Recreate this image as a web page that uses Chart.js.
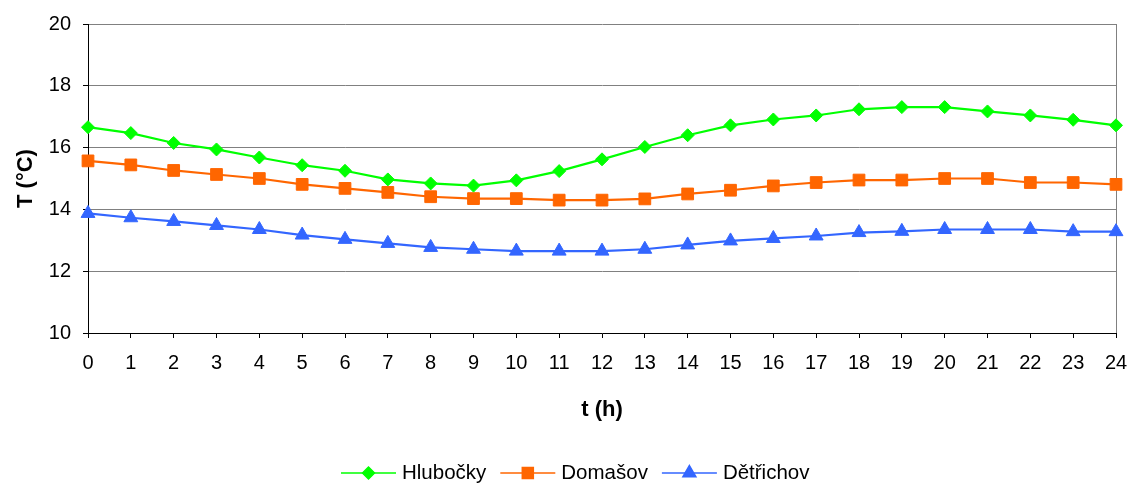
<!DOCTYPE html>
<html>
<head>
<meta charset="utf-8">
<script src="https://cdn.jsdelivr.net/npm/chart.js@4.4.1/dist/chart.umd.min.js"></script>
<style>
html,body{margin:0;padding:0;background:#fff;}
#wrap{width:1130px;height:484px;position:relative;}
</style>
</head>
<body>
<div id="wrap"><canvas id="c"></canvas></div>
<script>
const hours = ['0','1','2','3','4','5','6','7','8','9','10','11','12','13','14','15','16','17','18','19','20','21','22','23','24'];
const hlubocky = [16.66,16.47,16.15,15.94,15.68,15.43,15.25,14.97,14.84,14.77,14.94,15.24,15.62,16.02,16.40,16.72,16.91,17.04,17.24,17.31,17.31,17.17,17.04,16.90,16.72];
const domasov = [15.57,15.44,15.26,15.13,15.00,14.81,14.68,14.55,14.41,14.35,14.35,14.30,14.30,14.34,14.50,14.62,14.76,14.87,14.95,14.95,15.00,15.00,14.87,14.87,14.81];
const detrichov = [13.87,13.73,13.61,13.48,13.35,13.17,13.03,12.90,12.77,12.71,12.65,12.65,12.65,12.71,12.85,12.98,13.06,13.14,13.25,13.29,13.35,13.35,13.35,13.28,13.28];
const seriesNames = ['Hlubočky','Domašov','Dětřichov'];
const yTicks = [10,12,14,16,18,20];

const FONT = "'Liberation Sans', Arial, sans-serif";

const legendPlugin = {
  id: 'lineLegend',
  afterDraw(chart) {
    const ctx = chart.ctx;
    const y = 473;
    const lineLen = 55, gapText = 6, gapItem = 14;
    ctx.save();
    ctx.font = '20.5px ' + FONT;
    const items = chart.data.datasets.map(ds => ({ds, w: ctx.measureText(ds.label).width}));
    let x = 341;
    items.forEach(it => {
      const ds = it.ds;
      ctx.strokeStyle = ds.borderColor;
      ctx.lineWidth = 1.5;
      ctx.beginPath();
      ctx.moveTo(x, y);
      ctx.lineTo(x + lineLen, y);
      ctx.stroke();
      ctx.fillStyle = ds.pointBackgroundColor;
      ctx.strokeStyle = ds.pointBorderColor;
      Chart.helpers.drawPoint(ctx, {pointStyle: ds.pointStyle, radius: ds.pointRadius - 0.5, rotation: 0, borderWidth: 1}, x + lineLen / 2, y);
      ctx.fillStyle = '#000';
      ctx.textBaseline = 'middle';
      ctx.textAlign = 'left';
      ctx.fillText(ds.label, x + lineLen + gapText, y);
      x += lineLen + gapText + it.w + gapItem;
    });
    ctx.restore();
  }
};

new Chart(document.getElementById('c'), {
  type: 'line',
  data: {
    labels: hours,
    datasets: [
      {label: seriesNames[0], data: hlubocky, borderColor: '#00FF00', backgroundColor: '#00FF00', pointBackgroundColor: '#00FF00', pointBorderColor: '#00FF00', pointStyle: 'rectRot', pointRadius: 6.5, pointBorderWidth: 1, borderWidth: 2.2, tension: 0},
      {label: seriesNames[1], data: domasov, borderColor: '#FF6600', backgroundColor: '#FF6600', pointBackgroundColor: '#FF6600', pointBorderColor: '#FF6600', pointStyle: 'rect', pointRadius: 8.3, pointBorderWidth: 1, borderWidth: 2.2, tension: 0},
      {label: seriesNames[2], data: detrichov, borderColor: '#3366FF', backgroundColor: '#3366FF', pointBackgroundColor: '#3366FF', pointBorderColor: '#3366FF', pointStyle: 'triangle', pointRadius: 8, pointBorderWidth: 1, borderWidth: 2.2, tension: 0}
    ]
  },
  options: {
    responsive: true,
    maintainAspectRatio: false,
    animation: false,
    layout: {padding: {top: 23, right: 0, left: 0, bottom: 56}},
    plugins: {legend: {display: false}, tooltip: {enabled: false}},
    scales: {
      x: {
        type: 'category',
        offset: false,
        grid: {
          drawOnChartArea: true,
          color: (c) => (c.index === hours.length - 1 ? '#808080' : 'rgba(0,0,0,0)'),
          tickColor: '#000',
          tickLength: 5,
          lineWidth: 1
        },
        border: {color: '#000', width: 1},
        ticks: {color: '#000', font: {family: FONT, size: 20}, padding: 13, maxRotation: 0, autoSkip: false},
        title: {display: true, text: 't (h)', color: '#000', font: {family: FONT, size: 22, weight: 'bold'}, padding: {top: 0, bottom: 5}},
        afterFit: (s) => { s.height = 95; s.paddingRight = 14; s.paddingLeft = 0; }
      },
      y: {
        min: 10, max: 20,
        afterBuildTicks: (s) => { s.ticks = yTicks.map(v => ({value: v})); },
        grid: {color: '#808080', tickColor: '#000', tickLength: 5, lineWidth: 1},
        border: {color: '#000', width: 1},
        ticks: {color: '#000', font: {family: FONT, size: 20}, padding: 12},
        title: {display: true, text: 'T (°C)', color: '#000', font: {family: FONT, size: 22, weight: 'bold'}, padding: {top: 13, bottom: 0}},
        afterFit: (s) => { s.width = 88; }
      }
    }
  },
  plugins: [legendPlugin]
});
</script>
</body>
</html>
